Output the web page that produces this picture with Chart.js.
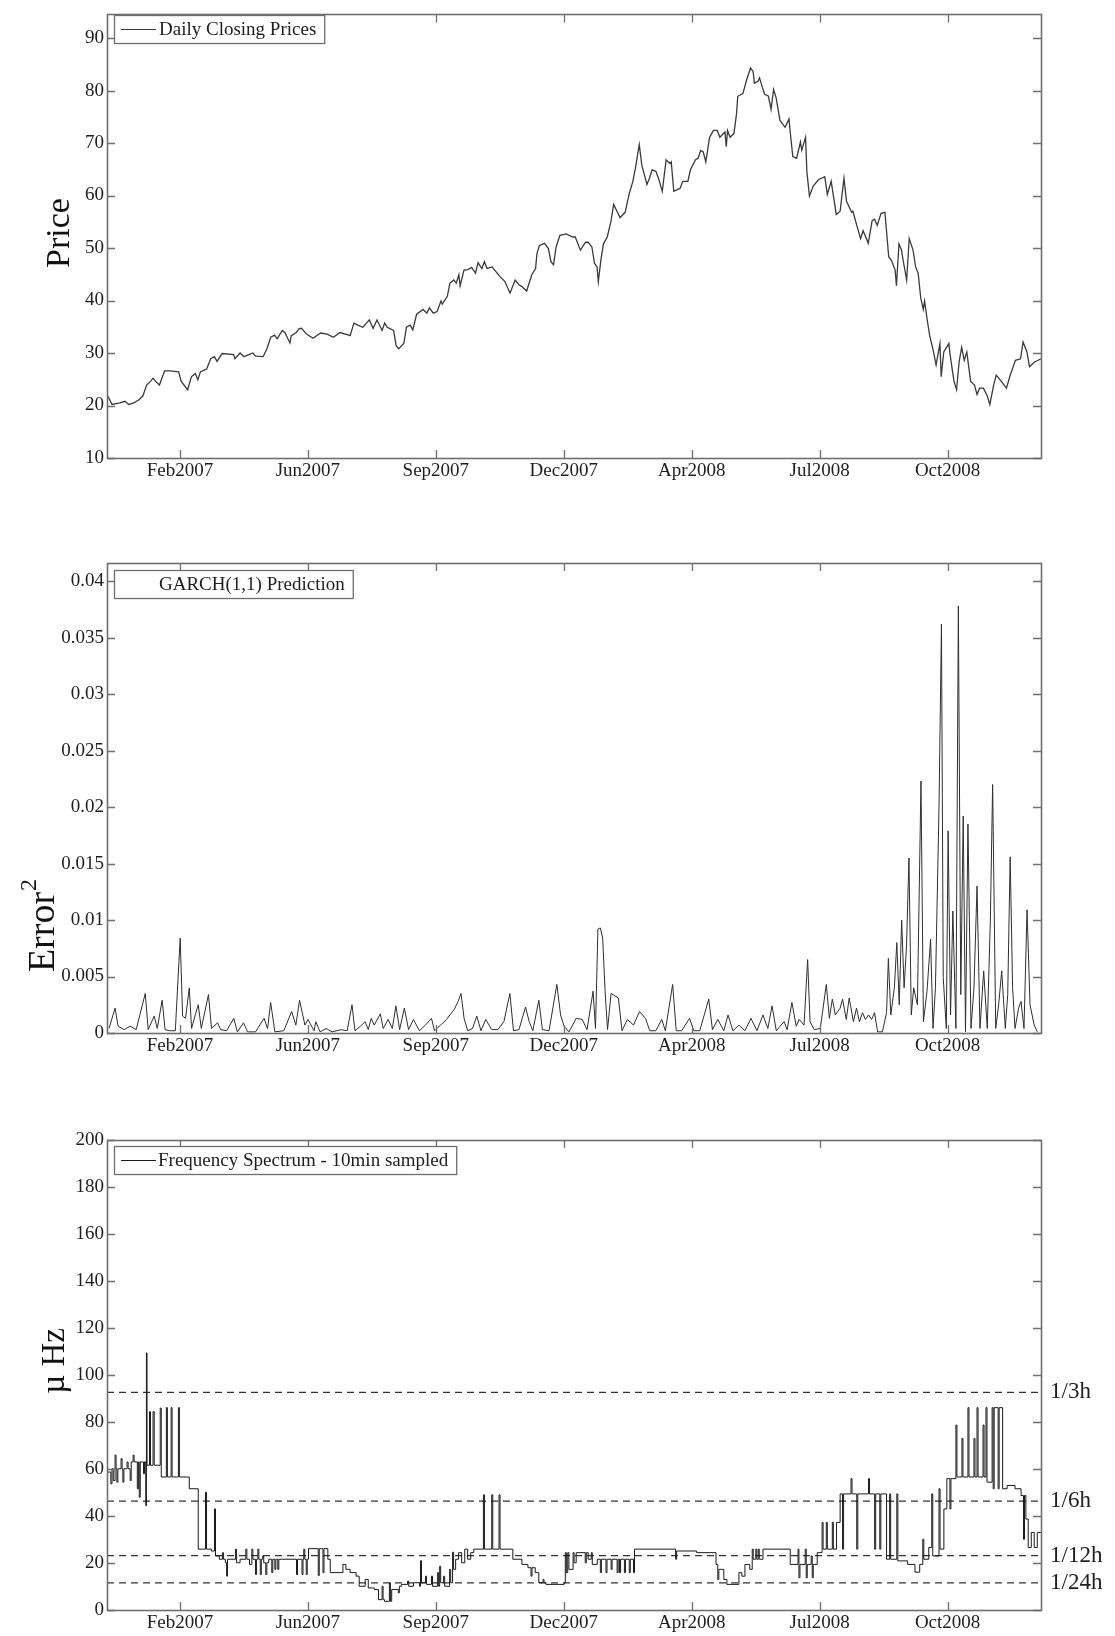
<!DOCTYPE html>
<html>
<head>
<meta charset="utf-8">
<script src="https://cdn.jsdelivr.net/npm/chart.js@4.4.0/dist/chart.umd.min.js"></script>
<style>
  html, body { margin: 0; padding: 0; background: #fff; }
  body { width: 1115px; height: 1636px; position: relative; overflow: hidden; }
  canvas { position: absolute; left: 0; display: block; }
</style>
</head>
<body>
<canvas id="priceChart" width="1115" height="520" style="top:0px"></canvas>
<canvas id="garchChart" width="1115" height="560" style="top:520px"></canvas>
<canvas id="freqChart" width="1115" height="556" style="top:1080px"></canvas>
<script>
// ---- shared time axis: days since 1 Jan 2007 ----
const X_MAX_DAY = 730;
const X_TICK_DAYS = [57, 157, 257, 357, 457, 557, 657];
const X_TICK_LABELS = ['Feb2007', 'Jun2007', 'Sep2007', 'Dec2007', 'Apr2008', 'Jul2008', 'Oct2008'];

// ---- daily closing prices ----
const PRICE_DAYS = [
  0, 4, 10, 14, 17, 21, 25, 28, 31, 34, 36, 38, 41, 45, 49, 56, 58, 63, 66, 69,
  71, 73, 78, 81, 84, 86, 90, 99, 100, 104, 107, 114, 116, 122, 125, 128, 131, 133, 137, 139,
  143, 144, 148, 150, 152, 156, 161, 167, 172, 177, 182, 189, 190, 193, 196, 200, 205, 208, 211, 215,
  217, 219, 224, 226, 228, 232, 234, 237, 239, 242, 247, 250, 252, 255, 258, 261, 262, 266, 268, 271,
  273, 275, 276, 279, 282, 285, 288, 290, 293, 295, 297, 301, 303, 307, 311, 315, 319, 322, 324, 328,
  332, 335, 336, 338, 342, 345, 347, 349, 351, 354, 359, 364, 366, 370, 374, 376, 379, 381, 383, 384,
  386, 388, 391, 394, 396, 401, 405, 408, 411, 413, 416, 418, 422, 424, 426, 429, 431, 434, 437, 440,
  441, 443, 448, 450, 454, 456, 460, 462, 464, 466, 468, 471, 474, 477, 479, 483, 484, 485, 487, 490,
  492, 493, 497, 500, 503, 505, 506, 509, 510, 512, 514, 517, 519, 521, 523, 526, 530, 533, 534, 536,
  539, 542, 543, 546, 547, 549, 552, 556, 561, 563, 566, 570, 573, 576, 578, 582, 583, 586, 589, 591,
  595, 598, 600, 602, 605, 608, 611, 613, 616, 617, 619, 621, 622, 625, 627, 630, 632, 634, 636, 638,
  639, 641, 643, 646, 648, 651, 652, 654, 658, 659, 662, 664, 666, 668, 670, 672, 675, 678, 680, 682,
  685, 688, 690, 693, 695, 699, 703, 706, 710, 714, 716, 719, 721, 725, 730
];
const PRICE_VALUES = [
  22.1, 20.2, 20.5, 20.8, 20.2, 20.5, 21.1, 21.8, 23.9, 24.6, 25.2, 24.6, 23.9, 26.6, 26.6, 26.4, 24.6, 23.0, 25.5, 26.1,
  24.9, 26.4, 27.0, 28.9, 29.3, 28.4, 29.9, 29.7, 28.9, 30.0, 29.3, 30.0, 29.4, 29.3, 30.8, 33.0, 33.4, 32.7, 34.3, 33.9,
  31.9, 33.3, 33.9, 34.6, 34.7, 33.6, 32.8, 33.8, 33.6, 33.0, 33.9, 33.4, 33.3, 35.7, 35.3, 34.9, 36.3, 34.7, 36.3, 34.3,
  35.7, 34.9, 34.3, 31.4, 30.8, 31.8, 34.9, 35.3, 34.4, 37.4, 38.3, 37.6, 38.6, 37.6, 37.9, 39.9, 39.3, 40.8, 43.3, 43.9,
  43.3, 44.9, 42.8, 45.8, 45.9, 46.3, 45.2, 47.2, 46.1, 47.4, 46.1, 46.4, 45.8, 44.6, 43.6, 41.4, 43.9, 43.0, 42.7, 41.8,
  44.9, 46.1, 48.9, 50.5, 50.9, 49.9, 47.4, 46.8, 50.2, 52.4, 52.7, 52.1, 52.1, 49.6, 51.1, 51.1, 50.2, 47.1, 46.4, 43.6,
  47.7, 50.8, 52.1, 55.2, 58.3, 55.8, 56.8, 60.2, 62.7, 65.2, 69.7, 65.8, 62.1, 63.3, 64.9, 64.6, 63.3, 60.8, 66.8, 66.1,
  66.4, 60.8, 61.4, 62.7, 62.7, 64.9, 66.8, 67.1, 68.6, 68.3, 66.4, 71.1, 72.4, 72.4, 71.1, 72.1, 69.3, 72.4, 71.1, 71.8,
  75.5, 78.9, 79.4, 82.1, 84.3, 83.6, 81.4, 81.8, 82.4, 80.8, 79.3, 78.9, 76.4, 80.2, 78.6, 74.3, 73.0, 74.6, 72.1, 67.4,
  67.1, 70.2, 68.6, 71.1, 64.6, 59.9, 61.8, 63.0, 63.6, 60.2, 62.7, 56.4, 57.0, 63.3, 58.9, 56.8, 57.0, 54.3, 51.8, 53.3,
  50.9, 55.2, 55.5, 54.3, 56.6, 56.8, 48.3, 47.7, 45.8, 42.8, 50.8, 49.6, 48.0, 43.9, 51.8, 49.6, 46.4, 45.2, 40.5, 38.3,
  39.9, 36.4, 33.3, 30.2, 27.7, 31.8, 25.5, 30.2, 31.8, 29.6, 24.6, 23.0, 28.3, 31.1, 28.6, 30.2, 24.6, 23.9, 22.1, 23.3,
  23.3, 21.8, 20.2, 23.9, 25.8, 24.6, 23.3, 25.8, 28.6, 28.9, 32.1, 30.2, 27.4, 28.3, 28.9
];
const PRICE_TICKS = [10, 20, 30, 40, 50, 60, 70, 80, 90];

// ---- squared error of the GARCH(1,1) prediction ----
const GARCH_DAYS = [
  1.6, 6.3, 8.7, 13.4, 18.1, 22.8, 29.9, 32.2, 36.9, 39.3, 43.1, 45.4, 48.7, 53.4, 57.2, 59.1, 61.4, 64.3, 66.1, 69,
  71.3, 73.7, 79.3, 81.7, 86.4, 88.8, 93.5, 99.1, 101.9, 106.7, 109.9, 116.1, 122.7, 125.5, 127.9, 131.2, 138.2, 144.3, 147.6, 150.5,
  154.7, 157.1, 161.8, 163.2, 166.5, 171.2, 175.9, 183, 187.7, 191.5, 193.8, 198.1, 201.8, 204.2, 206.5, 208.9, 213.6, 215.9, 219.7, 223,
  225.8, 228.7, 232.4, 235.7, 239.5, 244.2, 248.9, 253.6, 256, 260.7, 265.4, 268.7, 271.5, 274.4, 276.7, 279.1, 281.9, 285.7, 289, 292.3,
  296, 300.7, 305.5, 310.2, 314.9, 317.7, 322, 327.1, 330, 332.8, 337.5, 340.3, 345.5, 351.6, 354.5, 357.3, 361.1, 366.7, 371.4, 375.2,
  379.9, 381.8, 383.7, 385.6, 387.4, 389.3, 391.2, 394, 399.7, 402.5, 406.7, 411.5, 416.2, 420.9, 424.2, 428.9, 433.6, 436.4, 442.1, 444.9,
  449.1, 455.3, 458.6, 463.3, 470.3, 473.2, 477.4, 482.1, 485.4, 489.2, 493.9, 498.6, 503.3, 508, 512.7, 516.5, 519.8, 523.1, 526.9, 529.2,
  531.6, 535.3, 538.7, 541, 544.8, 547.6, 549.5, 552.8, 557.5, 562.2, 564.6, 566.9, 569.3, 573, 574.9, 577.8, 580.1, 583.4, 585.8, 588.1,
  590.5, 592.8, 595.2, 597.6, 599.9, 602.3, 606, 609.3, 610.7, 612.6, 615.4, 617.3, 619.2, 621.1, 623, 624.9, 626.8, 628.6, 630.5, 633.4,
  636.2, 638.1, 640.9, 643.7, 645.6, 647.5, 650.3, 652.2, 653.6, 656, 657.4, 659.3, 661.1, 663.5, 665.4, 667.3, 669.2, 671, 672.9, 675.3,
  677.6, 680, 682.3, 685.2, 688, 690.4, 692.2, 694.6, 696.9, 699.3, 702.1, 704, 705.9, 707.8, 709.7, 712.5, 714.4, 716.7, 719.1, 721.4,
  724.7, 727.1
];
const GARCH_VALUES = [
  0.0004, 0.0022, 0.0006, 0.0003, 0.0006, 0.0003, 0.0035, 0.0003, 0.0015, 0.0004, 0.0029, 0.0003, 0.0002, 0.0002, 0.0084, 0.0015, 0.0013, 0.0040, 0.0004, 0.0016,
  0.0025, 0.0004, 0.0034, 0.0004, 0.0009, 0.0003, 0.0002, 0.0013, 0.0001, 0.0009, 0.0001, 0.0001, 0.0013, 0.0004, 0.0027, 0.0001, 0.0002, 0.0019, 0.0007, 0.0029,
  0.0007, 0.0012, 0.0002, 0.0010, 0.0001, 0.0004, 0.0001, 0.0003, 0.0002, 0.0025, 0.0002, 0.0006, 0.0010, 0.0003, 0.0013, 0.0007, 0.0017, 0.0004, 0.0012, 0.0004,
  0.0024, 0.0003, 0.0022, 0.0003, 0.0012, 0.0002, 0.0007, 0.0013, 0.0002, 0.0007, 0.0012, 0.0017, 0.0021, 0.0028, 0.0035, 0.0013, 0.0002, 0.0004, 0.0015, 0.0002,
  0.0012, 0.0003, 0.0003, 0.0010, 0.0035, 0.0002, 0.0003, 0.0023, 0.0010, 0.0002, 0.0029, 0.0003, 0.0002, 0.0043, 0.0016, 0.0006, 0.0001, 0.0013, 0.0012, 0.0003,
  0.0037, 0.0004, 0.0092, 0.0093, 0.0084, 0.0037, 0.0003, 0.0035, 0.0031, 0.0002, 0.0012, 0.0007, 0.0019, 0.0013, 0.0002, 0.0002, 0.0012, 0.0002, 0.0043, 0.0002,
  0.0002, 0.0013, 0.0002, 0.0002, 0.0030, 0.0003, 0.0012, 0.0002, 0.0016, 0.0002, 0.0007, 0.0002, 0.0013, 0.0002, 0.0016, 0.0004, 0.0024, 0.0002, 0.0007, 0.0010,
  0.0003, 0.0027, 0.0006, 0.0012, 0.0007, 0.0065, 0.0010, 0.0003, 0.0004, 0.0043, 0.0013, 0.0030, 0.0016, 0.0022, 0.0030, 0.0012, 0.0031, 0.0010, 0.0022, 0.0010,
  0.0018, 0.0012, 0.0016, 0.0012, 0.0018, 0.0001, 0.0001, 0.0018, 0.0066, 0.0016, 0.0040, 0.0080, 0.0025, 0.0100, 0.0040, 0.0077, 0.0155, 0.0016, 0.0040, 0.0025,
  0.0223, 0.0010, 0.0037, 0.0083, 0.0004, 0.0040, 0.0201, 0.0362, 0.0049, 0.0004, 0.0179, 0.0016, 0.0108, 0.0004, 0.0378, 0.0034, 0.0192, 0.0001, 0.0185, 0.0004,
  0.0040, 0.0130, 0.0004, 0.0055, 0.0004, 0.0099, 0.0220, 0.0004, 0.0025, 0.0055, 0.0004, 0.0034, 0.0156, 0.0040, 0.0004, 0.0022, 0.0028, 0.0004, 0.0109, 0.0025,
  0.0007, 0.0001
];
const GARCH_TICKS = [0, 0.005, 0.01, 0.015, 0.02, 0.025, 0.03, 0.035, 0.04];

// ---- dominant frequency of the 10-minute sampled spectrum, in µHz (held until the next day listed) ----
const FREQ_DAYS = [
  0, 1.6, 3.0, 3.9, 4.9, 6.3, 7.1, 7.7, 8.5, 11.0,
  11.8, 12.4, 13.2, 15.7, 16.5, 18.1, 18.9, 20.4, 21.2, 23.7,
  24.5, 25.2, 26.0, 28.5, 29.3, 30.3, 30.8, 31.3, 33.2, 34.0,
  36.0, 36.9, 41.6, 42.4, 46.4, 47.2, 50.1, 50.9, 55.8, 56.6,
  64.3, 71.3, 77.0, 77.8, 81.7, 84.0, 84.8, 87.8, 90.2, 91.0,
  92.5, 93.5, 94.2, 100.5, 101.3, 104.0, 108.5, 109.3, 111.4, 113.2,
  114.0, 116.1, 116.9, 117.9, 118.7, 119.8, 120.6, 121.7, 122.5, 124.1,
  124.9, 126.4, 128.8, 129.6, 131.2, 132.0, 133.5, 134.3, 148.1, 148.9,
  152.4, 153.2, 153.8, 154.6, 155.7, 156.5, 157.5, 165.1, 165.9, 168.8,
  169.6, 172.6, 174.5, 184.4, 186.7, 190.0, 194.7, 197.1, 201.8, 204.2,
  208.9, 212.2, 215.0, 215.8, 216.9, 220.7, 221.5, 222.5, 227.7, 228.5,
  230.1, 235.0, 235.8, 239.5, 244.2, 245.0, 245.8, 248.9, 249.7, 253.6,
  254.4, 258.4, 259.2, 260.0, 260.8, 263.1, 263.9, 267.8, 268.6, 270.1,
  270.9, 272.5, 274.8, 277.2, 279.6, 281.9, 284.3, 286.6, 294.2, 295.0,
  300.7, 301.5, 306.4, 307.2, 317.2, 324.3, 329.0, 331.4, 332.2, 334.7,
  337.5, 340.8, 341.6, 343.1, 357.3, 358.2, 359.0, 360.1, 361.0, 364.3,
  365.1, 366.7, 373.8, 374.6, 376.1, 378.5, 379.3, 383.2, 385.6, 386.4,
  390.0, 390.8, 394.0, 394.8, 398.7, 399.5, 400.6, 401.4, 404.4, 405.2,
  408.2, 409.0, 411.5, 412.3, 444.4, 445.2, 460.9, 476.0, 477.4, 478.2,
  482.1, 484.5, 493.9, 496.2, 498.6, 502.4, 504.3, 505.1, 507.1, 507.9,
  509.0, 509.8, 512.7, 534.0, 540.1, 540.8, 541.6, 545.7, 546.5, 547.3,
  550.4, 551.2, 552.0, 555.1, 558.9, 559.7, 562.2, 563.0, 566.9, 567.7,
  570.2, 573.0, 574.9, 575.7, 581.5, 582.3, 586.0, 586.8, 595.2, 596.0,
  600.0, 600.8, 604.0, 604.8, 609.3, 611.7, 612.5, 617.3, 618.1, 625.8,
  631.5, 635.2, 637.6, 638.4, 642.3, 644.6, 645.4, 650.3, 651.1, 654.1,
  656.4, 658.8, 659.6, 663.5, 664.3, 668.2, 669.0, 672.9, 673.7, 677.6,
  678.4, 680.0, 680.8, 684.7, 685.5, 687.0, 687.8, 691.8, 692.6, 693.4,
  696.5, 697.3, 700.0, 703.5, 709.7, 714.4, 716.3, 717.1, 718.2, 720.0,
  722.4, 724.7, 727.1, 730
];
const FREQ_VALUES = [
  58.7, 58.7, 53.7, 60.1, 55.1, 65.9, 60.1, 54.4, 60.1, 64.4,
  60.1, 54.4, 60.1, 63.0, 60.1, 55.1, 63.0, 65.9, 63.0, 51.6,
  63.0, 48.0, 63.0, 58.0, 63.0, 44.4, 109.4, 61.6, 84.4, 61.6,
  84.4, 61.6, 85.9, 56.6, 86.1, 56.6, 86.1, 56.6, 86.1, 56.6,
  51.6, 25.9, 50.1, 25.9, 25.1, 43.0, 23.0, 21.6, 24.4, 21.6,
  20.1, 14.4, 21.6, 25.9, 20.1, 21.6, 25.9, 21.6, 19.4, 25.9,
  21.6, 15.1, 21.6, 25.9, 21.6, 15.1, 21.6, 23.0, 20.1, 15.1,
  20.1, 21.6, 15.9, 21.6, 17.3, 21.6, 17.3, 21.6, 15.1, 21.6,
  15.1, 21.6, 25.9, 21.6, 15.1, 21.6, 26.1, 14.7, 26.1, 15.9,
  26.1, 21.6, 15.9, 19.4, 17.3, 15.9, 14.4, 10.1, 13.0, 9.4,
  8.7, 4.4, 10.1, 4.4, 3.7, 11.6, 3.7, 8.7, 7.3, 10.1,
  10.9, 12.3, 10.1, 11.6, 10.1, 21.0, 11.6, 14.4, 10.9, 14.4,
  10.1, 15.9, 10.1, 18.6, 11.6, 14.4, 10.1, 17.3, 11.6, 24.6,
  17.3, 21.6, 24.4, 20.1, 25.9, 21.6, 24.4, 25.9, 49.0, 25.9,
  49.0, 25.9, 49.0, 25.9, 21.6, 19.4, 18.0, 14.4, 18.0, 15.9,
  11.6, 13.0, 11.6, 10.9, 11.6, 24.4, 15.9, 24.4, 17.3, 24.4,
  20.1, 24.4, 20.1, 24.4, 21.6, 24.4, 19.4, 21.6, 15.9, 21.6,
  15.9, 21.6, 17.3, 21.6, 15.9, 21.6, 15.9, 21.6, 15.9, 21.6,
  15.9, 21.6, 15.9, 25.9, 21.6, 25.1, 24.4, 19.4, 13.0, 17.3,
  13.0, 10.9, 15.9, 14.4, 19.4, 17.3, 25.9, 21.6, 25.9, 21.6,
  25.9, 21.6, 25.9, 19.4, 25.9, 13.7, 19.4, 25.9, 13.7, 19.4,
  23.0, 13.7, 19.4, 24.4, 37.3, 25.9, 37.3, 25.9, 37.3, 25.9,
  37.3, 49.4, 25.9, 49.4, 55.9, 49.4, 25.9, 49.4, 55.9, 49.4,
  25.9, 49.4, 25.9, 49.4, 21.6, 49.4, 21.6, 49.4, 20.9, 19.4,
  16.1, 19.4, 30.1, 21.6, 26.6, 49.4, 23.0, 51.6, 25.9, 43.0,
  55.9, 43.0, 55.9, 78.7, 56.6, 73.0, 56.6, 86.1, 56.6, 73.0,
  56.6, 86.1, 56.6, 78.7, 56.6, 86.1, 54.4, 86.1, 51.6, 86.1,
  51.6, 86.1, 51.6, 53.0, 51.6, 48.7, 30.1, 48.7, 38.7, 26.6,
  33.0, 26.6, 33.0, 33.0
];
const FREQ_TICKS = [0, 20, 40, 60, 80, 100, 120, 140, 160, 180, 200];

// reference periods marked with dashed lines (µHz = 1e6 / seconds)
const PERIOD_UHZ = [92.59, 46.30, 23.15, 11.57];
const PERIOD_LABELS = ['1/3h', '1/6h', '1/12h', '1/24h'];

// ---------------------------------------------------------------
const SERIF = '"Liberation Serif", "Times New Roman", Times, serif';
const TICK_FONT = { family: SERIF, size: 19 };
const INK = '#1e1e1e';

const toPoints = (xs, ys) => xs.map((x, i) => ({ x, y: ys[i] }));

// MATLAB-style box: frame on all four sides, tick marks pointing inward
const framePlugin = {
  id: 'frame',
  afterDatasetsDraw(chart) {
    const { ctx, chartArea: a, scales } = chart;
    const len = 8;
    ctx.save();
    ctx.strokeStyle = '#6e6e6e';
    ctx.lineWidth = 1.3;
    ctx.beginPath();
    for (const t of scales.x.ticks) {
      const px = Math.round(scales.x.getPixelForValue(t.value)) + 0.5;
      ctx.moveTo(px, a.bottom); ctx.lineTo(px, a.bottom - len);
      ctx.moveTo(px, a.top); ctx.lineTo(px, a.top + len);
    }
    for (const t of scales.y.ticks) {
      const py = Math.round(scales.y.getPixelForValue(t.value)) + 0.5;
      ctx.moveTo(a.left, py); ctx.lineTo(a.left + len, py);
      ctx.moveTo(a.right, py); ctx.lineTo(a.right - len, py);
    }
    ctx.stroke();
    ctx.lineWidth = 1.6;
    ctx.strokeRect(Math.round(a.left) + 0.5, Math.round(a.top) + 0.5,
                   Math.round(a.right - a.left), Math.round(a.bottom - a.top));
    ctx.restore();
  }
};

// boxed legend in the upper-left corner of the plot
const legendPlugin = {
  id: 'boxLegend',
  afterDraw(chart, args, o) {
    const ctx = chart.ctx;
    const text = chart.data.datasets[0].label;
    ctx.save();
    ctx.font = `19px ${SERIF}`;
    const w = o.textX - o.x + ctx.measureText(text).width + 8;
    ctx.fillStyle = '#fff';
    ctx.fillRect(o.x, o.y, w, o.h);
    ctx.strokeStyle = '#6e6e6e';
    ctx.lineWidth = 1.3;
    ctx.strokeRect(o.x + 0.5, o.y + 0.5, w, o.h);
    if (o.sample) {
      ctx.strokeStyle = chart.data.datasets[0].borderColor;
      ctx.lineWidth = 1.2;
      ctx.beginPath();
      ctx.moveTo(o.x + 7, o.y + o.h / 2 + 0.5);
      ctx.lineTo(o.x + 42, o.y + o.h / 2 + 0.5);
      ctx.stroke();
    }
    ctx.fillStyle = INK;
    ctx.textBaseline = 'middle';
    ctx.fillText(text, o.textX, o.y + o.h / 2 + 1);
    ctx.restore();
  }
};

// rotated y-axis title, with an optional superscript
const sideTitlePlugin = {
  id: 'sideTitle',
  afterDraw(chart, args, o) {
    const ctx = chart.ctx;
    ctx.save();
    ctx.translate(o.x, o.y);
    ctx.rotate(-Math.PI / 2);
    ctx.fillStyle = '#111';
    ctx.textBaseline = 'middle';
    ctx.font = `${o.size}px ${SERIF}`;
    const w1 = ctx.measureText(o.text).width;
    let w2 = 0;
    if (o.sup) {
      ctx.font = `${Math.round(o.size * 0.62)}px ${SERIF}`;
      w2 = ctx.measureText(o.sup).width;
    }
    const start = -(w1 + w2) / 2;
    ctx.font = `${o.size}px ${SERIF}`;
    ctx.textAlign = 'left';
    ctx.fillText(o.text, start, 0);
    if (o.sup) {
      ctx.font = `${Math.round(o.size * 0.62)}px ${SERIF}`;
      ctx.fillText(o.sup, start + w1 + 1, -o.size * 0.38);
    }
    ctx.restore();
  }
};

function xAxis(height) {
  return {
    type: 'linear',
    min: 0,
    max: X_MAX_DAY,
    afterBuildTicks: s => { s.ticks = X_TICK_DAYS.map(v => ({ value: v })); },
    afterFit: s => { s.height = height; },
    grid: { display: false, drawTicks: false },
    border: { display: false },
    ticks: {
      autoSkip: false, maxRotation: 0, minRotation: 0, padding: 2,
      font: TICK_FONT, color: INK,
      callback: (v, i) => X_TICK_LABELS[i]
    }
  };
}

function yAxis(min, max, tickValues, fmt) {
  return {
    type: 'linear',
    position: 'left',
    min, max,
    afterBuildTicks: s => { s.ticks = tickValues.map(v => ({ value: v })); },
    afterFit: s => { s.width = 107; },
    grid: { display: false, drawTicks: false },
    border: { display: false },
    ticks: {
      autoSkip: false, padding: 3, font: TICK_FONT, color: INK,
      callback: (v, i) => fmt(tickValues[i])
    }
  };
}

const common = {
  responsive: false,
  animation: false,
  events: [],
  plugins: { legend: { display: false }, tooltip: { enabled: false } },
  elements: { point: { radius: 0 }, line: { tension: 0 } }
};

Chart.defaults.font.family = SERIF;

// ---- panel 1: prices ----
new Chart(document.getElementById('priceChart'), {
  type: 'line',
  data: {
    datasets: [{
      label: 'Daily Closing Prices',
      data: toPoints(PRICE_DAYS, PRICE_VALUES),
      borderColor: '#3a3a3a',
      borderWidth: 1.3,
      fill: false
    }]
  },
  options: {
    ...common,
    layout: { padding: { left: 0, right: 74, top: 8, bottom: 0 } },
    scales: {
      x: xAxis(62),
      y: yAxis(10, 94.5, PRICE_TICKS, v => String(v))
    },
    plugins: {
      ...common.plugins,
      boxLegend: { x: 114, y: 15, h: 28, textX: 159, sample: true },
      sideTitle: { text: 'Price', x: 60, y: 233, size: 34 }
    }
  },
  plugins: [framePlugin, legendPlugin, sideTitlePlugin]
});

// ---- panel 2: squared prediction error ----
new Chart(document.getElementById('garchChart'), {
  type: 'line',
  data: {
    datasets: [{
      label: 'GARCH(1,1) Prediction',
      data: toPoints(GARCH_DAYS, GARCH_VALUES),
      borderColor: '#2e2e2e',
      borderWidth: 1,
      fill: false
    }]
  },
  options: {
    ...common,
    layout: { padding: { left: 0, right: 74, top: 43, bottom: 0 } },
    scales: {
      x: xAxis(47),
      y: yAxis(0, 0.0416, GARCH_TICKS, v => String(+v.toFixed(3)))
    },
    plugins: {
      ...common.plugins,
      boxLegend: { x: 114, y: 50, h: 28, textX: 159, sample: false },
      sideTitle: { text: 'Error', sup: '2', x: 44, y: 406, size: 38 }
    }
  },
  plugins: [framePlugin, legendPlugin, sideTitlePlugin]
});

// ---- panel 3: frequency spectrum with reference periods ----
const periodSets = PERIOD_UHZ.map((f, i) => ({
  label: PERIOD_LABELS[i],
  data: [{ x: 0, y: f }, { x: X_MAX_DAY, y: f }],
  borderColor: '#333',
  borderWidth: 1.3,
  borderDash: [7, 5],
  fill: false
}));

new Chart(document.getElementById('freqChart'), {
  type: 'line',
  data: {
    datasets: [{
      label: 'Frequency Spectrum - 10min sampled',
      data: toPoints(FREQ_DAYS, FREQ_VALUES),
      borderColor: '#1a1a1a',
      borderWidth: 1,
      stepped: 'before',   // each value holds until the next listed day
      fill: false
    }, ...periodSets]
  },
  options: {
    ...common,
    layout: { padding: { left: 0, right: 0, top: 60, bottom: 0 } },
    scales: {
      x: xAxis(26),
      y: yAxis(0, 200, FREQ_TICKS, v => String(v)),
      y2: {
        type: 'linear',
        position: 'right',
        min: 0, max: 200,
        afterBuildTicks: s => { s.ticks = PERIOD_UHZ.map(v => ({ value: v })); },
        afterFit: s => { s.width = 74; },
        grid: { display: false, drawTicks: false },
        border: { display: false },
        ticks: {
          autoSkip: false, padding: 9,
          font: { family: SERIF, size: 23 }, color: INK,
          callback: (v, i) => PERIOD_LABELS[i]
        }
      }
    },
    plugins: {
      ...common.plugins,
      boxLegend: { x: 114, y: 66, h: 28, textX: 158, sample: true },
      sideTitle: { text: 'µ Hz', x: 55, y: 281, size: 33 }
    }
  },
  plugins: [framePlugin, legendPlugin, sideTitlePlugin]
});
</script>
</body>
</html>
